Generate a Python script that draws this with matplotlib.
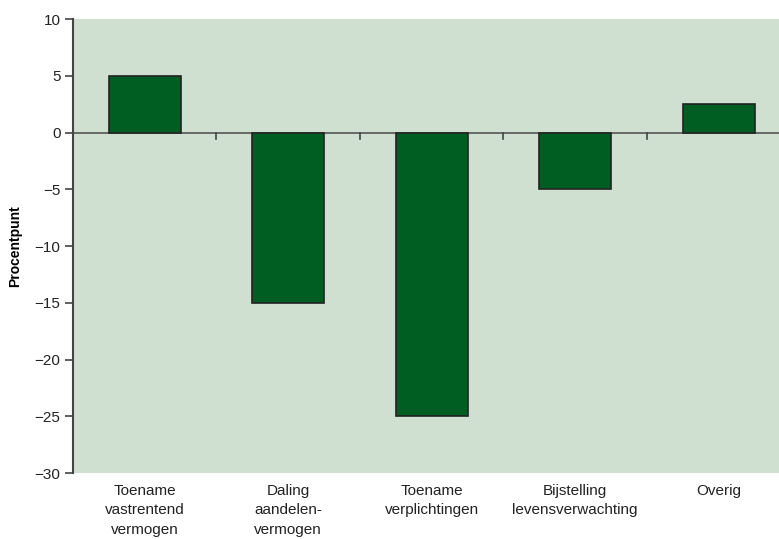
import matplotlib.pyplot as plt

# Bijdrage aan verandering dekkingsgraad (procentpunt)
categorieen = ["Toename\nvastrentend\nvermogen", "Daling\naandelen-\nvermogen",
               "Toename\nverplichtingen", "Bijstelling\nlevensverwachting", "Overig"]
waarden = [5, -15, -25, -5, 2.5]
y_ticks = [10, 5, 0, -5, -10, -15, -20, -25, -30]

plt.rcParams['font.family'] = ['Liberation Sans', 'DejaVu Sans']
plt.rcParams['axes.unicode_minus'] = True

fig = plt.figure(figsize=(7.79, 5.39), dpi=100)
ax = fig.add_axes([0.0937, 0.1224, 0.9063, 0.8423])
ax.set_facecolor('#cfdfd0')

x = list(range(len(categorieen)))
ax.bar(x, waarden, width=0.5, color='#005e23', edgecolor='#222222', linewidth=1.2, zorder=3)

# nullijn en scheidingsstreepjes tussen de categorieen
ax.axhline(0, color='#555555', linewidth=1.2, zorder=2)
for i in range(len(categorieen) - 1):
    ax.plot([i + 0.5, i + 0.5], [0, -0.6], color='#444444', linewidth=1.2, zorder=2)

ax.set_xlim(-0.5, 4.42)
ax.set_ylim(-30, 10)
ax.set_yticks(y_ticks)
ax.set_yticklabels([str(v).replace('-', '\u2212') for v in y_ticks], fontsize=11, color='#222222')
ax.tick_params(axis='y', direction='out', length=6, width=1.2, color='#444444', pad=3)
ax.set_xticks([])

for s in ['top', 'right', 'bottom']:
    ax.spines[s].set_visible(False)
ax.spines['left'].set_color('#444444')
ax.spines['left'].set_linewidth(1.5)

# categorielabels onder de as
for xi, lab in zip(x, categorieen):
    ax.text(xi, -30.95, lab, ha='center', va='top', fontsize=11, color='#222222',
            linespacing=1.5)

ax.set_ylabel("Procentpunt", fontsize=10, fontweight='bold', labelpad=9)

fig.savefig("out.png", dpi=100)
